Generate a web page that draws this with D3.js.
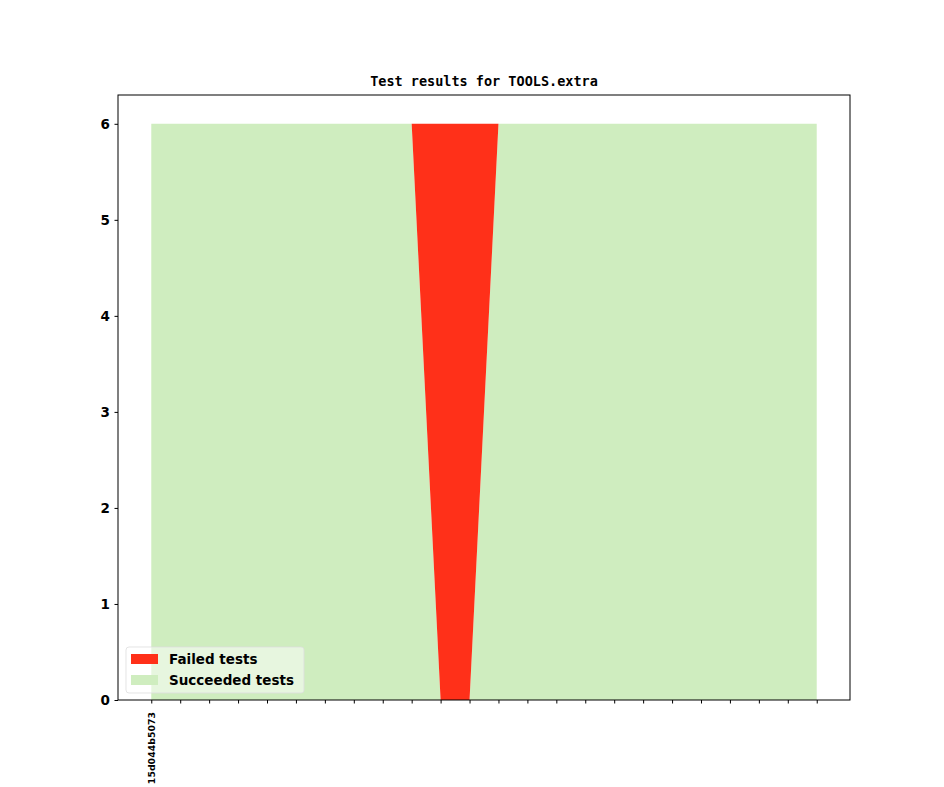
<!DOCTYPE html>
<html>
<head>
<meta charset="utf-8">
<script src="https://cdn.jsdelivr.net/npm/d3@7"></script>
<style>
  body { margin: 0; background: #fff; }
  text { font-family: "DejaVu Sans", sans-serif; }
</style>
</head>
<body>
<div class="chart"></div>
<script>
// Test results stacked area chart
let commits = ["15d044b5073"].concat(d3.range(23).map(() => ""));
let succeeded = [6, 6, 6, 6, 6, 6, 6, 6, 6, 6, 0, 0, 6, 6, 6, 6, 6, 6, 6, 6, 6, 6, 6, 6];
let failed = [0, 0, 0, 0, 0, 0, 0, 0, 0, 0, 6, 6, 0, 0, 0, 0, 0, 0, 0, 0, 0, 0, 0, 0];
let yTicks = [0, 1, 2, 3, 4, 5, 6];

let svgWidth = 944;
let svgHeight = 787;

let margin = { top: 95, right: 94, bottom: 87, left: 118 };
let width = svgWidth - margin.left - margin.right;
let height = svgHeight - margin.top - margin.bottom;

let svg = d3.select(".chart")
  .append("svg")
  .attr("width", svgWidth)
  .attr("height", svgHeight);

let chartGroup = svg.append("g")
  .attr("transform", `translate(${margin.left}, ${margin.top})`);

let n = commits.length;
let pad = (n - 1) * 0.05;
let xScale = d3.scaleLinear()
  .domain([-pad, n - 1 + pad])
  .range([0, width]);

let yScale = d3.scaleLinear()
  .domain([0, 6.3])
  .range([height, 0]);

// stack: succeeded at the bottom, failed on top
let rows = commits.map((c, i) => ({ i: i, succeeded: succeeded[i], failed: failed[i] }));
let stack = d3.stack().keys(["succeeded", "failed"]);
let layers = stack(rows);
let colors = { succeeded: "#cfedbf", failed: "#ff3019" };

let area = d3.area()
  .x(d => xScale(d.data.i))
  .y0(d => yScale(d[0]))
  .y1(d => yScale(d[1]));

chartGroup.selectAll(".layer")
  .data(layers)
  .enter()
  .append("path")
  .attr("class", "layer")
  .attr("d", area)
  .attr("fill", d => colors[d.key]);

// axes
let bottomAxis = d3.axisBottom(xScale)
  .tickValues(d3.range(n))
  .tickFormat(i => commits[i])
  .tickSizeInner(3.5)
  .tickSizeOuter(0);
let leftAxis = d3.axisLeft(yScale)
  .tickValues(yTicks)
  .tickFormat(d3.format("d"))
  .tickSizeInner(3.5)
  .tickSizeOuter(0);

let xAxis = chartGroup.append("g")
  .attr("transform", `translate(0, ${height})`)
  .call(bottomAxis);
xAxis.select(".domain").remove();
xAxis.selectAll("text")
  .attr("transform", "rotate(-90)")
  .attr("text-anchor", "end")
  .attr("x", -12)
  .attr("y", 0)
  .attr("dy", "0.35em")
  .style("font-size", "9.4px")
  .style("font-weight", "bold")
  .style("font-family", "DejaVu Sans");

let yAxis = chartGroup.append("g").call(leftAxis);
yAxis.select(".domain").remove();
yAxis.selectAll("text")
  .attr("x", -8)
  .style("font-size", "13.5px")
  .style("font-weight", "bold")
  .style("font-family", "DejaVu Sans");

// frame
chartGroup.append("rect")
  .attr("width", width)
  .attr("height", height)
  .attr("fill", "none")
  .attr("stroke", "#000")
  .attr("stroke-width", 1);

// title
svg.append("text")
  .attr("x", margin.left + width / 2)
  .attr("y", margin.top - 9)
  .attr("text-anchor", "middle")
  .style("font-family", "DejaVu Sans Mono")
  .style("font-weight", "bold")
  .style("font-size", "13.5px")
  .text("Test results for TOOLS.extra");

// legend
let legendItems = [
  { label: "Failed tests", color: colors.failed },
  { label: "Succeeded tests", color: colors.succeeded }
];
let legend = chartGroup.append("g")
  .attr("transform", `translate(8, ${height - 53})`);
legend.append("rect")
  .attr("width", 178)
  .attr("height", 46)
  .attr("rx", 3)
  .attr("fill", "#fff")
  .attr("fill-opacity", 0.5)
  .attr("stroke", "#ddd")
  .attr("stroke-opacity", 0.8);
let entries = legend.selectAll(".entry")
  .data(legendItems)
  .enter()
  .append("g")
  .attr("transform", (d, i) => `translate(5, ${7 + i * 21})`);
entries.append("rect")
  .attr("width", 27)
  .attr("height", 10)
  .attr("fill", d => d.color);
entries.append("text")
  .attr("x", 38)
  .attr("y", 5)
  .attr("dy", "0.35em")
  .style("font-size", "13.5px")
  .style("font-weight", "bold")
  .text(d => d.label);
</script>
</body>
</html>
